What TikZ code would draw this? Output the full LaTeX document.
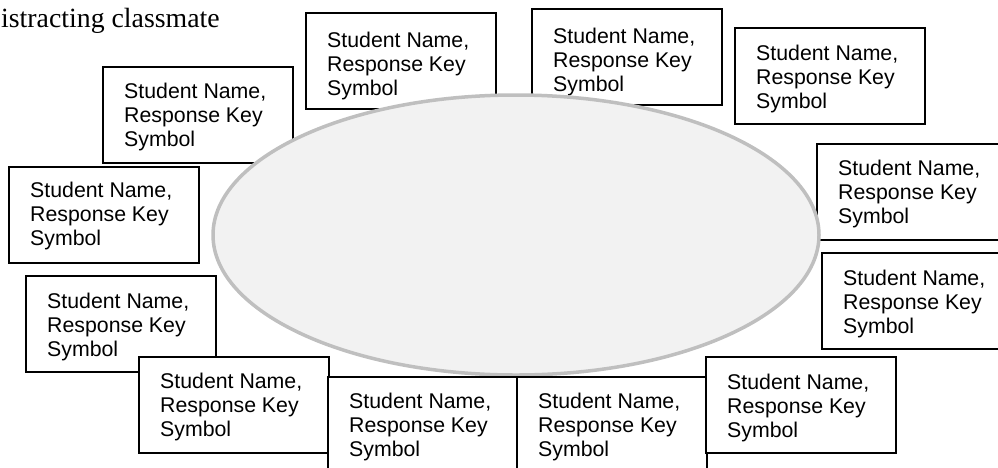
\documentclass[tikz,border=0pt]{standalone}
\usepackage{fontspec}
\setmainfont{Liberation Sans}
\newfontfamily\serifface{Liberation Serif}
\usetikzlibrary{shapes.geometric}
\definecolor{tablefill}{HTML}{F2F2F2}
\definecolor{tableline}{HTML}{BFBFBF}
\newcommand\seatlines{\vtop{\baselineskip=24pt\hbox{Student Name,}\hbox{Response Key}\hbox{Symbol}}}
\newcommand\seat[4]{%
  \node[seatbox] (#1) at (#2,#3) {};
  \node[seattext] (#1t) at (#2+21,#3+#4+15) {\seatlines};
}
\begin{document}
\begin{tikzpicture}[x=1pt,y=-1pt,
  seatbox/.style={draw=black, line width=1.8pt, fill=white, anchor=north west,
    minimum width=190pt, minimum height=96pt, inner sep=0pt, outer sep=0pt},
  seattext/.style={anchor=base west, inner sep=0pt, font=\fontsize{21.3}{24}\selectfont},
  tablestyle/.style={draw=tableline, line width=3.5pt, fill=tablefill, ellipse,
    minimum width=606pt, minimum height=280pt, inner sep=0pt}]
\useasboundingbox (0,0) rectangle (998,467);
\clip (0,0) rectangle (998,467);
\node[anchor=base west, inner sep=0pt, font=\serifface\fontsize{27.8}{30}\selectfont] (title) at (1,27) {istracting classmate};
\seat{D}{103}{67}{16}
\seat{A}{306}{13}{19}
\seat{B}{532}{9}{19}
\seat{C}{735}{28}{17}
\seat{L}{817}{144}{16}
\node[tablestyle] (table) at (516,235) {};
\seat{E}{9}{167}{15}
\seat{K}{822}{253}{17}
\seat{F}{26}{276}{17}
\seat{G}{139}{357}{16}
\seat{H}{328}{377}{16}
\seat{I}{517}{377}{16}
\seat{J}{706}{357}{17}
\end{tikzpicture}
\end{document}
